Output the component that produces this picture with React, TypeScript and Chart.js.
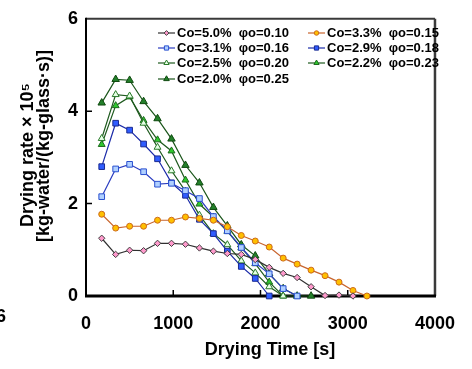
import React, { useEffect, useRef } from 'react';
import { Chart, registerables } from 'chart.js';

Chart.register(...registerables);

// Drying time [s]
const times = [180, 340, 500, 660, 820, 980, 1140, 1300, 1460, 1620, 1780, 1940, 2100, 2260, 2420, 2580, 2740, 2900, 3060, 3220];

// Drying rate x 10^5 [kg-water/(kg-glass s)]
const co50 = [1.25, 0.90, 0.99, 0.98, 1.14, 1.14, 1.12, 1.04, 0.97, 0.92, 0.90, 0.79, 0.62, 0.49, 0.40, 0.20, 0.01, 0.02, 0.00];
const co33 = [1.77, 1.47, 1.51, 1.51, 1.64, 1.64, 1.71, 1.68, 1.64, 1.50, 1.31, 1.19, 1.06, 0.82, 0.69, 0.56, 0.44, 0.30, 0.12, 0.00];
const co31 = [2.15, 2.75, 2.85, 2.69, 2.42, 2.44, 2.28, 2.11, 1.72, 1.41, 1.05, 0.72, 0.48, 0.16, 0.00];
const co29 = [2.80, 3.74, 3.59, 3.29, 2.97, 2.45, 2.18, 1.66, 1.35, 0.97, 0.64, 0.38, 0.00];
const co25 = [3.41, 4.36, 4.33, 3.74, 3.22, 2.71, 2.27, 1.75, 1.35, 1.11, 0.76, 0.50, 0.20, 0.00];
const co22 = [3.28, 4.12, 4.31, 3.80, 3.38, 3.14, 2.51, 1.99, 1.71, 1.40, 1.04, 0.70, 0.30, 0.00, 0.00];
const co20 = [4.18, 4.69, 4.67, 4.21, 3.84, 3.40, 2.83, 2.45, 1.92, 1.52, 1.11, 0.87, 0.48, 0.16, 0.00, 0.00];

const labels = [
  'Co=5.0%  \u03c6o=0.10',
  'Co=3.3%  \u03c6o=0.15',
  'Co=3.1%  \u03c6o=0.16',
  'Co=2.9%  \u03c6o=0.18',
  'Co=2.5%  \u03c6o=0.20',
  'Co=2.2%  \u03c6o=0.23',
  'Co=2.0%  \u03c6o=0.25',
];

const xTicks = [0, 1000, 2000, 3000, 4000];
const yTicks = [0, 2, 4, 6];

const FONT = "'Liberation Sans Narrow', 'Liberation Sans', Arial, sans-serif";

type Style = { line: string; fill: string; border: string; shape: string; r: number };
const styles: Style[] = [
  { line: '#303030', fill: '#ff99cc', border: '#404040', shape: 'rectRot', r: 3.2 },
  { line: '#c8642d', fill: '#ffc000', border: '#cc6a1a', shape: 'circle', r: 3 },
  { line: '#2a3cc0', fill: '#b0d0ff', border: '#2a50d0', shape: 'rect', r: 4 },
  { line: '#1a2aa8', fill: '#2f5cff', border: '#1a2a90', shape: 'rect', r: 4 },
  { line: '#1e5a1e', fill: '#e6ffe6', border: '#2a7a2a', shape: 'triangle', r: 4 },
  { line: '#1e5a1e', fill: '#2ec82e', border: '#1e6a1e', shape: 'triangle', r: 4 },
  { line: '#1a551a', fill: '#23802a', border: '#0f4a0f', shape: 'triangle', r: 4.3 },
];
const series = [co50, co33, co31, co29, co25, co22, co20];

function drawMarker(ctx: CanvasRenderingContext2D, s: Style, x: number, y: number) {
  const r = s.r;
  ctx.beginPath();
  if (s.shape === 'circle') {
    ctx.arc(x, y, r, 0, Math.PI * 2);
  } else if (s.shape === 'rect') {
    const h = Math.SQRT1_2 * r;
    ctx.rect(x - h, y - h, 2 * h, 2 * h);
  } else if (s.shape === 'rectRot') {
    ctx.moveTo(x - r, y);
    ctx.lineTo(x, y - r);
    ctx.lineTo(x + r, y);
    ctx.lineTo(x, y + r);
    ctx.closePath();
  } else {
    ctx.moveTo(x, y - r);
    ctx.lineTo(x + Math.sin((2 * Math.PI) / 3) * r, y - Math.cos((2 * Math.PI) / 3) * r);
    ctx.lineTo(x + Math.sin((4 * Math.PI) / 3) * r, y - Math.cos((4 * Math.PI) / 3) * r);
    ctx.closePath();
  }
  ctx.fillStyle = s.fill;
  ctx.strokeStyle = s.border;
  ctx.lineWidth = 1;
  ctx.fill();
  ctx.stroke();
}

const framePlugin = {
  id: 'frame',
  beforeDatasetsDraw(chart: any) {
    const { ctx, chartArea: a, scales } = chart;
    ctx.save();
    ctx.strokeStyle = '#3a3a3a';
    ctx.lineWidth = 2;
    ctx.beginPath();
    ctx.moveTo(a.left, a.top);
    ctx.lineTo(a.right, a.top);
    ctx.stroke();
    ctx.lineWidth = 2.5;
    ctx.beginPath();
    ctx.moveTo(a.right, a.top);
    ctx.lineTo(a.right, a.bottom);
    ctx.stroke();
    ctx.strokeStyle = '#000';
    ctx.lineWidth = 2;
    ctx.beginPath();
    ctx.moveTo(a.left, a.top - 1);
    ctx.lineTo(a.left, a.bottom);
    ctx.stroke();
    ctx.lineWidth = 1.5;
    ctx.beginPath();
    yTicks.forEach((v) => {
      if (v === 0 || v === 6) return;
      const py = scales.y.getPixelForValue(v);
      ctx.moveTo(a.left, py);
      ctx.lineTo(a.left + 6, py);
    });
    xTicks.forEach((v) => {
      if (v === 0 || v === 4000) return;
      const px = scales.x.getPixelForValue(v);
      ctx.moveTo(px, a.bottom);
      ctx.lineTo(px, a.bottom - 6);
    });
    ctx.stroke();
    ctx.lineWidth = 3;
    ctx.beginPath();
    ctx.moveTo(a.left - 1, a.bottom);
    ctx.lineTo(a.right + 1, a.bottom);
    ctx.stroke();
    ctx.restore();
  },
  afterDraw(chart: any) {
    const { ctx } = chart;
    ctx.save();
    // legend
    const cols = [158, 308];
    const rows = [33, 48, 63, 79];
    const place = [
      [0, 0], [1, 0], [0, 1], [1, 1], [0, 2], [1, 2], [0, 3],
    ];
    ctx.font = `bold 13px ${FONT}`;
    ctx.textBaseline = 'middle';
    ctx.textAlign = 'left';
    labels.forEach((lab, i) => {
      const x0 = cols[place[i][0]];
      const y0 = rows[place[i][1]];
      const s = styles[i];
      ctx.strokeStyle = s.line;
      ctx.lineWidth = 1.2;
      ctx.beginPath();
      ctx.moveTo(x0, y0);
      ctx.lineTo(x0 + 17, y0);
      ctx.stroke();
      drawMarker(ctx, { ...s, r: s.r * 0.75 }, x0 + 8.5, y0);
      ctx.fillStyle = '#000';
      ctx.fillText(lab, x0 + 19, y0 + 0.5);
    });
    // axis titles
    ctx.fillStyle = '#000';
    ctx.font = `bold 18px ${FONT}`;
    ctx.textAlign = 'center';
    ctx.textBaseline = 'middle';
    ctx.fillText('Drying Time [s]', 270, 350);
    ctx.save();
    ctx.translate(28, 155);
    ctx.rotate(-Math.PI / 2);
    ctx.fillText('Drying rate \u00d7 10\u2075', 0, 0);
    ctx.restore();
    ctx.save();
    ctx.translate(44, 146);
    ctx.rotate(-Math.PI / 2);
    ctx.fillText('[kg-water/(kg-glass\u00b7s)]', 0, 0);
    ctx.restore();
    // clipped fragment at left edge
    ctx.textAlign = 'right';
    ctx.fillText('6', 6, 317);
    ctx.restore();
  },
};

export default function App() {
  const ref = useRef<HTMLCanvasElement | null>(null);
  useEffect(() => {
    if (!ref.current) return;
    const datasets = series.map((vals, i) => {
      const s = styles[i];
      return {
        label: labels[i],
        data: vals.map((v, j) => ({ x: times[j], y: v })),
        borderColor: s.line,
        borderWidth: 1.2,
        pointStyle: s.shape,
        pointRadius: s.r,
        pointBackgroundColor: s.fill,
        pointBorderColor: s.border,
        pointBorderWidth: 1,
        showLine: true,
        fill: false,
        tension: 0,
        clip: false,
      };
    });
    const chart = new Chart(ref.current, {
      type: 'scatter',
      data: { datasets: datasets as any },
      options: {
        animation: false,
        responsive: false,
        events: [],
        layout: { padding: { left: 0, right: 19, top: 12, bottom: 0 } },
        plugins: { legend: { display: false }, tooltip: { enabled: false } },
        scales: {
          x: {
            type: 'linear',
            min: 0,
            max: 4000,
            afterBuildTicks: (scale: any) => {
              scale.ticks = xTicks.map((v) => ({ value: v }));
            },
            afterFit: (scale: any) => {
              scale.height = 73;
            },
            grid: { display: false, drawTicks: false },
            border: { display: false },
            ticks: {
              padding: 17,
              color: '#000',
              font: { family: FONT, size: 18, weight: 'bold' },
              maxRotation: 0,
              callback: (v: any) => String(v),
            },
          },
          y: {
            type: 'linear',
            min: 0,
            max: 6,
            afterBuildTicks: (scale: any) => {
              scale.ticks = yTicks.map((v) => ({ value: v }));
            },
            afterFit: (scale: any) => {
              scale.width = 86;
            },
            grid: { display: false, drawTicks: false },
            border: { display: false },
            ticks: {
              padding: 8,
              color: '#000',
              font: { family: FONT, size: 18, weight: 'bold' },
              callback: (v: any) => String(v),
            },
          },
        },
      },
      plugins: [framePlugin],
    });
    return () => chart.destroy();
  }, []);
  return (
    <div style={{ position: 'absolute', left: 0, top: 0, width: 472, height: 369, background: '#fff' }}>
      <canvas ref={ref} width={472} height={369} style={{ display: 'block', width: 472, height: 369 }} />
    </div>
  );
}
